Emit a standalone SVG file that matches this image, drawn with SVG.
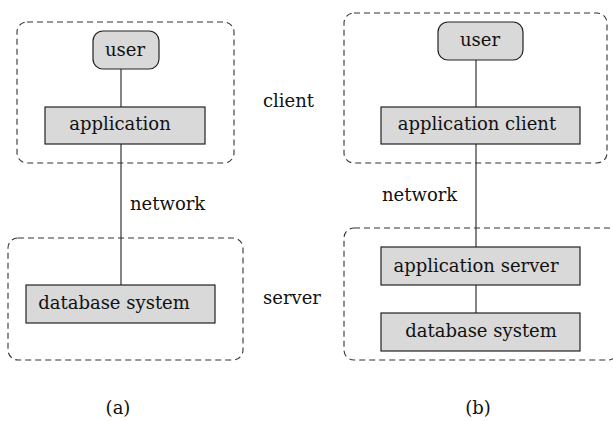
<svg xmlns="http://www.w3.org/2000/svg" width="613" height="421" viewBox="0 0 613 421">
<style>
.grp{fill:none;stroke:#333;stroke-width:1.1;stroke-dasharray:6,4}
.box{fill:#d9d9d9;stroke:#222;stroke-width:1.2}
.ln{stroke:#333;stroke-width:1.2;fill:none}
.t{font-family:'DejaVu Serif',serif;font-size:18px;fill:#111}
.m{text-anchor:middle}
</style>
<rect width="613" height="421" fill="#fff"/>
<g id="groups">
<rect id="clientA" class="grp" x="17" y="22" width="217" height="141" rx="10"/>
<rect id="serverA" class="grp" x="8" y="238" width="235" height="122" rx="10"/>
<rect id="clientB" class="grp" x="344" y="13" width="263" height="150" rx="10"/>
<rect id="serverB" class="grp" x="344" y="228" width="274" height="132" rx="10"/>
</g>
<g id="connectors">
<line class="ln" x1="121" y1="69" x2="121" y2="107"/>
<line class="ln" x1="121" y1="144" x2="121" y2="285"/>
<line class="ln" x1="476" y1="60" x2="476" y2="107"/>
<line class="ln" x1="476" y1="144" x2="476" y2="247"/>
<line class="ln" x1="476" y1="285" x2="476" y2="313"/>
</g>
<g id="userA"><rect class="box" x="93" y="31" width="66" height="38" rx="10"/><text class="t m" x="125" y="56">user</text></g>
<g id="applicationA"><rect class="box" x="45" y="107" width="160" height="37"/><text class="t m" x="120" y="130">application</text></g>
<g id="databaseA"><rect class="box" x="26" y="285" width="189" height="38"/><text class="t m" x="114" y="309">database system</text></g>
<g id="userB"><rect class="box" x="438" y="22" width="85" height="38" rx="10"/><text class="t m" x="480" y="46">user</text></g>
<g id="appClientB"><rect class="box" x="381" y="107" width="199" height="37"/><text class="t m" x="477" y="130">application client</text></g>
<g id="appServerB"><rect class="box" x="381" y="247" width="199" height="38"/><text class="t m" x="476" y="272">application server</text></g>
<g id="databaseB"><rect class="box" x="381" y="313" width="199" height="38"/><text class="t m" x="481" y="337">database system</text></g>
<g id="labels">
<text class="t" x="263" y="107">client</text>
<text class="t" x="130" y="210">network</text>
<text class="t" x="263" y="304">server</text>
<text class="t" x="382" y="201">network</text>
<text class="t m" x="118" y="414">(a)</text>
<text class="t m" x="478" y="414">(b)</text>
</g>
</svg>
